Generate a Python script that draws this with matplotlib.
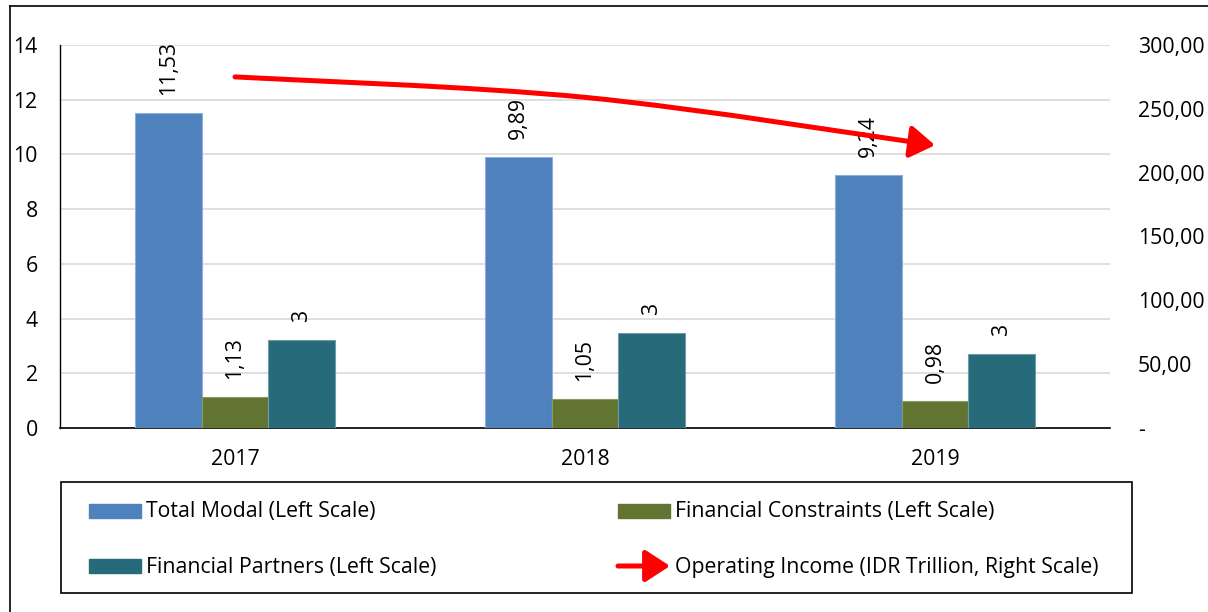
import matplotlib
matplotlib.use("Agg")
import matplotlib.pyplot as plt
from matplotlib.patches import Rectangle, FancyArrowPatch
from matplotlib.path import Path
from matplotlib.lines import Line2D
import numpy as np

plt.rcParams['font.family'] = ['Open Sans', 'DejaVu Sans']

years = ["2017", "2018", "2019"]
total_modal = [11.53, 9.89, 9.24]
fin_constraints = [1.13, 1.05, 0.98]
fin_partners = [3.22, 3.46, 2.70]
operating_income = [275.0, 259.0, 221.5]

series_names = ["Total Modal (Left Scale)", "Financial Constraints (Left Scale)",
                "Financial Partners (Left Scale)", "Operating Income (IDR Trillion, Right Scale)"]
colors = ["#4F81BD", "#617431", "#276A7A"]
edge_colors = ["#8FB0DA", "#8A9A63", "#6E9CA7"]

W, H = 1208, 612
fig = plt.figure(figsize=(W / 100, H / 100), dpi=100)
ax = fig.add_axes([60 / W, 1 - 428 / H, (1110 - 60) / W, (428 - 45) / H])

x = np.arange(len(years))
bw = 0.19
fs = 15.3

def fmt(v, d):
    return f"{v:.{d}f}".replace('.', ',')

for i, (vals, dec) in enumerate([(total_modal, 2), (fin_constraints, 2), (fin_partners, 0)]):
    pos = x + (i - 1) * bw
    ax.bar(pos, vals, width=bw, color=colors[i], edgecolor=edge_colors[i], linewidth=0.8, zorder=3)
    for px_, v in zip(pos, vals):
        ax.annotate(fmt(v, dec), (px_, v), xytext=(0, 13), textcoords='offset points',
                    rotation=90, ha='center', va='bottom', fontsize=fs, zorder=4)

ax.set_xlim(-0.5, 2.5)
ax.set_ylim(0, 14)
ax.set_yticks(range(0, 15, 2))
ax.set_xticks(x)
ax.set_xticklabels(years)
ax.grid(axis='y', color='#D9D9D9', linewidth=1.2, zorder=0)
ax.set_axisbelow(True)
for s in ['top', 'right']:
    ax.spines[s].set_visible(False)
ax.spines['left'].set_color('black')
ax.spines['bottom'].set_color('black')
ax.spines['left'].set_linewidth(1.0)
ax.spines['bottom'].set_linewidth(1.2)
ax.tick_params(axis='y', length=0, pad=16, labelsize=fs)
ax.tick_params(axis='x', length=0, pad=15, labelsize=fs)

ax2 = ax.twinx()
ax2.set_ylim(0, 300)
ax2.set_yticks(range(0, 301, 50))
ax2.set_yticklabels(["-" if v == 0 else fmt(v, 2) for v in range(0, 301, 50)])
for s in ax2.spines.values():
    s.set_visible(False)
ax2.tick_params(axis='y', length=0, pad=20, labelsize=fs)

# smooth line (Catmull-Rom -> cubic Bezier) through the data points
pts = np.column_stack([x, operating_income]).astype(float)
verts = [tuple(pts[0])]
codes = [Path.MOVETO]
n = len(pts)
for k in range(n - 1):
    p0 = pts[max(k - 1, 0)]
    p1 = pts[k]
    p2 = pts[k + 1]
    p3 = pts[min(k + 2, n - 1)]
    c1 = p1 + (p2 - p0) / 6.0
    c2 = p2 - (p3 - p1) / 6.0
    verts += [tuple(c1), tuple(c2), tuple(p2)]
    codes += [Path.CURVE4] * 3
arrow = FancyArrowPatch(path=Path(verts, codes), arrowstyle='-|>,head_length=1.0,head_width=0.65',
                        mutation_scale=15, color='#FF0000', lw=3.6, transform=ax2.transData,
                        capstyle='round', joinstyle='round', zorder=5)
ax2.add_patch(arrow)

# legend box
fig.patches.append(Rectangle((61 / W, 1 - 593 / H), (1132 - 61) / W, (593 - 482) / H,
                             transform=fig.transFigure, fill=False, edgecolor='black', lw=1.2))
legend_items = [(89, 511, 0), (618, 511, 1), (89, 566, 2)]
for lx, ly, ci in legend_items:
    fig.patches.append(Rectangle((lx / W, 1 - (ly + 7) / H), 52 / W, 14 / H,
                                 transform=fig.transFigure, color=colors[ci]))
    fig.text((lx + 57) / W, 1 - (ly + 1) / H, series_names[ci], fontsize=fs, va='center', ha='left')
la = FancyArrowPatch((618 / W, 1 - 566 / H), (670 / W, 1 - 566 / H), transform=fig.transFigure,
                     arrowstyle='-|>,head_length=1.0,head_width=0.65', mutation_scale=15,
                     color='#FF0000', lw=3.6, shrinkA=0, shrinkB=0)
fig.patches.append(la)
fig.text(675 / W, 1 - 567 / H, series_names[3], fontsize=fs, va='center', ha='left')

# outer frame
fig.add_artist(Line2D([10 / W, 10 / W], [0, 1 - 6 / H], transform=fig.transFigure, color='black', lw=1.2))
fig.add_artist(Line2D([10 / W, 1], [1 - 6 / H, 1 - 6 / H], transform=fig.transFigure, color='black', lw=1.2))

fig.savefig("out.png", dpi=100)
